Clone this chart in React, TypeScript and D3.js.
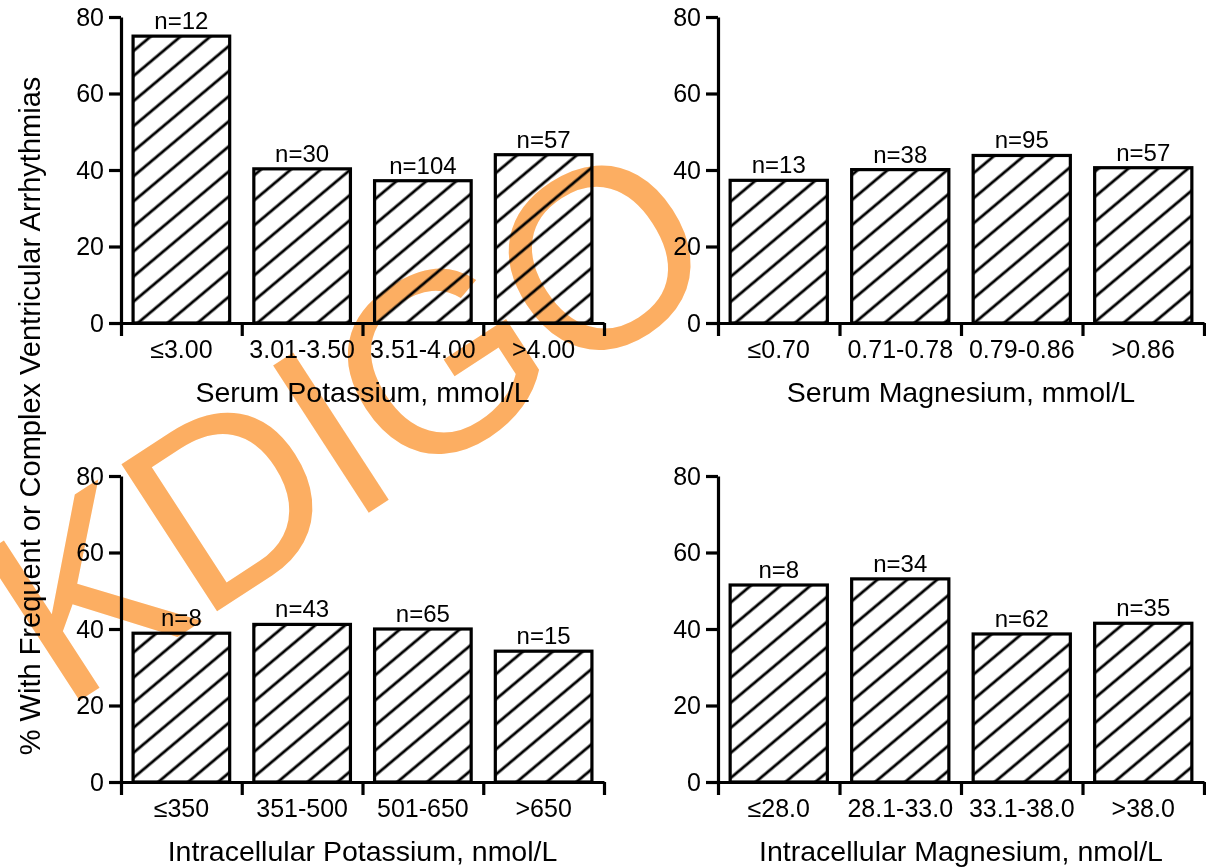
import React, { useEffect, useRef } from 'react';
import * as d3 from 'd3';

// serum potassium panel
const serumKCats = ['≤3.00', '3.01-3.50', '3.51-4.00', '>4.00'];
const serumKPct = [75, 40.3, 37.2, 44.0];
const serumKN = [12, 30, 104, 57];

// serum magnesium panel
const serumMgCats = ['≤0.70', '0.71-0.78', '0.79-0.86', '>0.86'];
const serumMgPct = [37.3, 40.1, 43.8, 40.6];
const serumMgN = [13, 38, 95, 57];

// intracellular potassium panel
const icKCats = ['≤350', '351-500', '501-650', '>650'];
const icKPct = [38.9, 41.2, 40.0, 34.2];
const icKN = [8, 43, 65, 15];

// intracellular magnesium panel
const icMgCats = ['≤28.0', '28.1-33.0', '33.1-38.0', '>38.0'];
const icMgPct = [51.5, 53.1, 38.7, 41.5];
const icMgN = [8, 34, 62, 35];

const yTicks = [0, 20, 40, 60, 80];
const yTitle = '% With Frequent or Complex Ventricular Arrhythmias';

const FONT = "'Liberation Sans', Arial, Helvetica, sans-serif";

const panels = [
  { title: 'Serum Potassium, mmol/L', cats: serumKCats, pct: serumKPct, n: serumKN, left: 121, width: 483, bottom: 323 },
  { title: 'Serum Magnesium, mmol/L', cats: serumMgCats, pct: serumMgPct, n: serumMgN, left: 718, width: 486, bottom: 323 },
  { title: 'Intracellular Potassium, nmol/L', cats: icKCats, pct: icKPct, n: icKN, left: 121, width: 483, bottom: 782 },
  { title: 'Intracellular Magnesium, nmol/L', cats: icMgCats, pct: icMgPct, n: icMgN, left: 718, width: 486, bottom: 782 },
];

const App = () => {
  const ref = useRef<SVGSVGElement | null>(null);

  useEffect(() => {
    const svg = d3.select(ref.current);
    svg.selectAll('*').remove();

    const defs = svg.append('defs');
    const pat = defs
      .append('pattern')
      .attr('id', 'hatch')
      .attr('patternUnits', 'userSpaceOnUse')
      .attr('width', 10)
      .attr('height', 19.2)
      .attr('patternTransform', 'rotate(-40)');
    pat.append('line')
      .attr('x1', -2).attr('x2', 12)
      .attr('y1', 9.6).attr('y2', 9.6)
      .attr('stroke', '#000')
      .attr('stroke-width', 2.8);

    panels.forEach((p) => {
      const x = d3.scaleBand()
        .domain(p.cats)
        .range([p.left, p.left + p.width])
        .paddingInner(0.2)
        .paddingOuter(0.1);
      const y = d3.scaleLinear()
        .domain([0, 80])
        .range([p.bottom, p.bottom - 306]);
      const bounds = d3.scaleLinear()
        .domain([0, p.cats.length])
        .range([p.left, p.left + p.width]);

      const g = svg.append('g');

      g.selectAll('rect.bar')
        .data(p.cats)
        .join('rect')
        .attr('class', 'bar')
        .attr('x', (d) => x(d)!)
        .attr('y', (d, i) => y(p.pct[i]))
        .attr('width', x.bandwidth())
        .attr('height', (d, i) => y(0) - y(p.pct[i]))
        .attr('fill', 'url(#hatch)')
        .attr('stroke', '#000')
        .attr('stroke-width', 3.2);

      g.selectAll('text.n')
        .data(p.cats)
        .join('text')
        .attr('class', 'n')
        .attr('x', (d) => x(d)! + x.bandwidth() / 2)
        .attr('y', (d, i) => y(p.pct[i]) - 7)
        .attr('text-anchor', 'middle')
        .attr('font-size', 24)
        .text((d, i) => `n=${p.n[i]}`);

      // y axis
      const ya = g.append('g')
        .attr('transform', `translate(${p.left},0)`)
        .call(d3.axisLeft(y).tickValues(yTicks).tickSize(12).tickSizeOuter(0).tickPadding(5));
      ya.select('.domain').attr('stroke-width', 3.2);
      ya.selectAll('.tick line').attr('stroke-width', 3.2);
      ya.selectAll('.tick text').attr('font-size', 25).attr('font-family', FONT).attr('fill', '#000');

      // x axis, ticks sit on the band boundaries
      const xa = g.append('g')
        .attr('transform', `translate(0,${p.bottom})`)
        .call(d3.axisBottom(bounds).ticks(p.cats.length).tickSize(13).tickSizeOuter(0).tickFormat(() => ''));
      xa.select('.domain').attr('stroke-width', 3.2);
      xa.selectAll('.tick line').attr('stroke-width', 3.2);

      g.selectAll('text.cat')
        .data(p.cats)
        .join('text')
        .attr('class', 'cat')
        .attr('x', (d) => x(d)! + x.bandwidth() / 2)
        .attr('y', p.bottom + 35)
        .attr('text-anchor', 'middle')
        .attr('font-size', 25)
        .text((d) => d);

      g.append('text')
        .attr('x', p.left + p.width / 2)
        .attr('y', p.bottom + 79)
        .attr('text-anchor', 'middle')
        .attr('font-size', 28.5)
        .text(p.title);
    });

    svg.append('text')
      .attr('transform', 'translate(40,416) rotate(-90)')
      .attr('text-anchor', 'middle')
      .attr('font-size', 29)
      .text(yTitle);

    // watermark
    svg.append('text')
      .attr('transform', 'translate(62,712) rotate(-33)')
      .attr('font-size', 255)
      .attr('letter-spacing', -6)
      .attr('fill', '#fcae62')
      .style('mix-blend-mode', 'multiply')
      .text('KDIGO');
  }, []);

  return (
    <svg
      ref={ref}
      width={1206}
      height={868}
      fontFamily={FONT}
      style={{ position: 'absolute', left: 0, top: 0, background: '#fff' }}
    />
  );
};

export default App;
